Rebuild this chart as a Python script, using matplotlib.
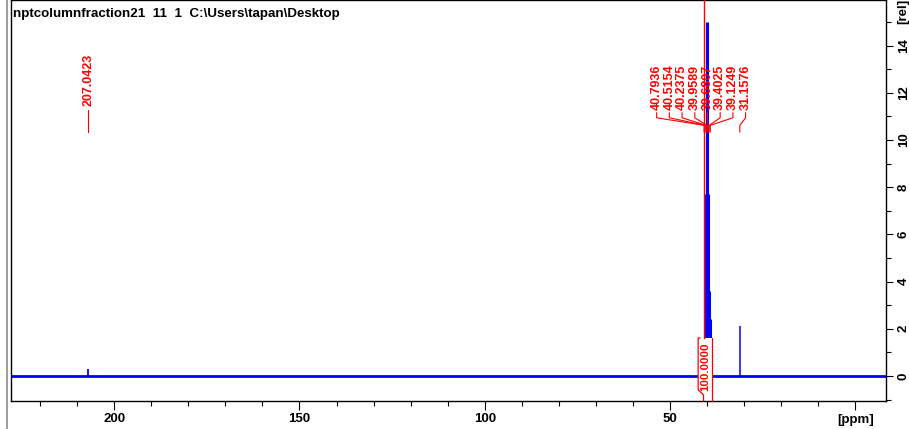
import matplotlib
matplotlib.use("Agg")
import matplotlib.pyplot as plt
from matplotlib.ticker import MultipleLocator, FixedLocator, FixedFormatter
from matplotlib.lines import Line2D
from matplotlib.patches import Rectangle

plt.rcParams['font.family'] = ['Liberation Sans', 'DejaVu Sans']

# --- spectrum data -------------------------------------------------------
title_text = "nptcolumnfraction21  11  1  C:\\Users\\tapan\\Desktop"

peak_ppm = [207.0423, 40.7936, 40.5154, 40.2375, 39.9589, 39.6807,
            39.4025, 39.1249, 31.1576]
peak_height = [0.30, 1.6, 3.6, 7.7, 15.0, 7.7, 3.6, 2.4, 2.1]

# picked peaks that carry a ppm label
label_group = [40.7936, 40.5154, 40.2375, 39.9589, 39.6807, 39.4025,
               39.1249, 31.1576]
label_single = 207.0423

integral_value = 100.0
integral_range = (42.4, 38.65)

x_major = [200, 150, 100, 50, 0]
x_major_labels = ["200", "150", "100", "50", "[ppm]"]
y_major = [0, 2, 4, 6, 8, 10, 12, 14]

# --- figure ------------------------------------------------------------
W, H = 909, 429
fig = plt.figure(figsize=(W / 100, H / 100), dpi=100)
ax = fig.add_axes([10.5 / W, (H - 401) / H, (886 - 10.5) / W, 401 / H])

BLUE = (0, 0, 1)
RED = (1, 0, 0)

# baseline and peaks
ax.plot([228.0, -8.3], [0, 0], color=BLUE, lw=2.0, solid_capstyle='butt')
ax.vlines(peak_ppm[:1], 0, peak_height[:1], color=BLUE, lw=1.3)
ax.vlines(peak_ppm[1:-1], 0, peak_height[1:-1], color=BLUE, lw=2.2)
ax.vlines(peak_ppm[-1:], 0, peak_height[-1:], color=BLUE, lw=1.1)

ax.set_xlim(228.0, -8.3)
ax.set_ylim(-1.06, 15.93)

# integral curve, its bracket and its value
ix0, ix1 = integral_range
itop = 1.61
ax.add_patch(Rectangle((ix1, -0.59), ix0 - ix1, itop + 0.59,
                       facecolor='white', edgecolor='none', zorder=3))
ax.plot([40.95, 40.95], [itop, itop + integral_value * 0.2], color=RED, lw=1,
        zorder=4)
ax.plot([ix0 - 0.5, ix0, ix0, 40.95, 40.95], [itop, itop, -0.59, -0.80, -1.06],
        color=RED, lw=0.9, clip_on=False, zorder=4)
ax.plot([ix1, ix1], [itop, -1.06], color=RED, lw=0.9, clip_on=False, zorder=4)
ax.text(40.5, 0.40, f"{integral_value:.4f}", rotation=90, ha='center',
        va='center', color=RED, fontsize=8.2, fontweight='bold', zorder=5)

# peak labels with leader lines
lab_fs = 9.0
n = len(label_group)
for i, p in enumerate(label_group):
    lx = 41.6 + 3.43 * ((n - 1) / 2 - i)
    ax.text(lx, 11.26, f"{p:.4f}", rotation=90, ha='center', va='bottom',
            color=RED, fontsize=lab_fs, fontweight='bold')
    ax.plot([lx, lx, p, p], [11.15, 10.94, 10.62, 10.34], color=RED, lw=0.8)

ax.text(label_single, 11.45, f"{label_single:.4f}", rotation=90, ha='center',
        va='bottom', color=RED, fontsize=lab_fs, fontweight='bold')
ax.plot([label_single, label_single], [11.27, 10.32], color=RED, lw=0.8)

# axes styling
for s in ax.spines.values():
    s.set_linewidth(1.0)
    s.set_color('black')

ax.xaxis.set_major_locator(FixedLocator(x_major))
ax.xaxis.set_major_formatter(FixedFormatter(x_major_labels))
ax.xaxis.set_minor_locator(MultipleLocator(10))
ax.tick_params(axis='x', which='major', length=6.5, width=0.8, pad=2.5,
               labelsize=9.5)
ax.tick_params(axis='x', which='minor', length=3.4, width=0.8)
for t in ax.get_xticklabels():
    t.set_fontweight('bold')

ax.yaxis.tick_right()
ax.yaxis.set_major_locator(FixedLocator(y_major))
ax.yaxis.set_minor_locator(MultipleLocator(1))
ax.tick_params(axis='y', which='major', length=5, width=0.8, pad=3.5,
               labelsize=9.5, labelrotation=90)
ax.tick_params(axis='y', which='minor', length=3.6, width=0.8)
for t in ax.get_yticklabels():
    t.set_fontweight('bold')
    t.set_va('center')

fig.text(903 / W, 1 - 24 / H, "[rel]", rotation=90, ha='center', va='bottom',
         fontsize=9.5, fontweight='bold')

fig.text(13 / W, 1 - 14 / H, title_text, ha='left', va='center',
         fontsize=9.6, fontweight='bold')

# window edge
fig.add_artist(Line2D([7 / W, 7 / W], [0, 1], color='#8c8c8c', lw=1.2,
                      transform=fig.transFigure))

fig.savefig("out.png", dpi=100)
